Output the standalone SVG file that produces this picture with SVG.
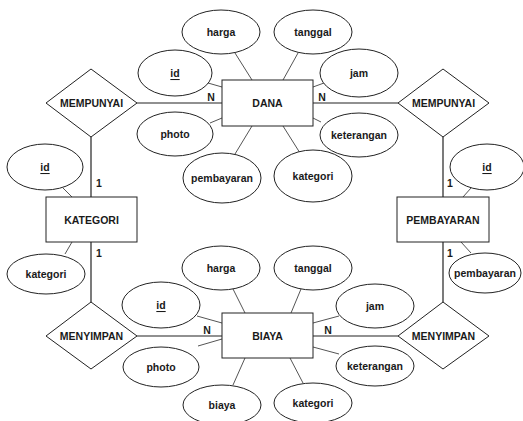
<svg xmlns="http://www.w3.org/2000/svg" width="523" height="421" viewBox="0 0 523 421">
  <style>
    text { font-family: "Liberation Sans", Arial, sans-serif; font-size: 10.5px; font-weight: bold; fill: #1a1a1a; text-anchor: middle; dominant-baseline: central; }
    .ent rect { fill: #fff; stroke: #222; stroke-width: 1; }
    .rel polygon { fill: #fff; stroke: #222; stroke-width: 1; }
    .att ellipse { fill: #fff; stroke: #222; stroke-width: 1; }
    .main { stroke: #222; stroke-width: 1.2; fill: none; }
    .attr { stroke: #555; stroke-width: 1; fill: none; }
    .card { font-size: 10.5px; }
    .key { text-decoration: underline; }
  </style>
  <rect width="523" height="421" fill="#fff"/>

  <!-- connectors -->
  <g id="connectors">
    <!-- relationship lines -->
    <line class="main" x1="137" y1="103" x2="222" y2="103"/>
    <line class="main" x1="313" y1="103" x2="398" y2="103"/>
    <line class="main" x1="91" y1="137" x2="91" y2="197"/>
    <line class="main" x1="91" y1="242" x2="91" y2="302"/>
    <line class="main" x1="443" y1="137" x2="443" y2="197"/>
    <line class="main" x1="443" y1="242" x2="443" y2="302"/>
    <line class="main" x1="137" y1="336" x2="222" y2="336"/>
    <line class="main" x1="313" y1="336" x2="398" y2="336"/>
    <!-- DANA attributes -->
    <line class="attr" x1="235" y1="53" x2="252" y2="80"/>
    <line class="attr" x1="298" y1="53" x2="283" y2="80"/>
    <line class="attr" x1="208" y1="83" x2="222" y2="87"/>
    <line class="attr" x1="324" y1="83" x2="313" y2="87"/>
    <line class="attr" x1="210" y1="123" x2="222" y2="118"/>
    <line class="attr" x1="321" y1="122" x2="313" y2="118"/>
    <line class="attr" x1="235" y1="154" x2="252" y2="126"/>
    <line class="attr" x1="300" y1="153" x2="283" y2="126"/>
    <!-- KATEGORI attributes -->
    <line class="attr" x1="63" y1="188" x2="72" y2="197"/>
    <line class="attr" x1="65" y1="254" x2="72" y2="242"/>
    <!-- PEMBAYARAN attributes -->
    <line class="attr" x1="471" y1="188" x2="463" y2="197"/>
    <line class="attr" x1="471" y1="253" x2="461" y2="242"/>
    <!-- BIAYA attributes -->
    <line class="attr" x1="233" y1="289" x2="245" y2="313"/>
    <line class="attr" x1="301" y1="289" x2="291" y2="313"/>
    <line class="attr" x1="197" y1="316" x2="222" y2="323"/>
    <line class="attr" x1="339" y1="316" x2="313" y2="323"/>
    <line class="attr" x1="198" y1="346" x2="222" y2="339"/>
    <line class="attr" x1="339" y1="354" x2="313" y2="347"/>
    <line class="attr" x1="233" y1="385" x2="245" y2="358"/>
    <line class="attr" x1="303" y1="383" x2="290" y2="358"/>
    <!-- cardinalities -->
    <text class="card" x="211" y="97">N</text>
    <text class="card" x="322" y="97">N</text>
    <text class="card" x="99" y="183">1</text>
    <text class="card" x="99" y="253">1</text>
    <text class="card" x="450" y="183">1</text>
    <text class="card" x="450" y="253">1</text>
    <text class="card" x="207" y="330">N</text>
    <text class="card" x="328" y="330">N</text>
  </g>

  <!-- entities -->
  <g id="dana" class="ent"><rect x="222" y="80" width="91" height="46"/><text x="267.5" y="103">DANA</text></g>
  <g id="kategori" class="ent"><rect x="46" y="197" width="91" height="45"/><text x="91.5" y="220">KATEGORI</text></g>
  <g id="pembayaran" class="ent"><rect x="397" y="197" width="92" height="45"/><text x="443" y="220">PEMBAYARAN</text></g>
  <g id="biaya" class="ent"><rect x="222" y="313" width="91" height="45"/><text x="267.5" y="336">BIAYA</text></g>

  <!-- relationships -->
  <g id="mempunyai-1" class="rel"><polygon points="46,103 91,69 137,103 91,137"/><text x="91.5" y="103">MEMPUNYAI</text></g>
  <g id="mempunyai-2" class="rel"><polygon points="398,103 443,69 489,103 443,137"/><text x="443.5" y="103">MEMPUNYAI</text></g>
  <g id="menyimpan-1" class="rel"><polygon points="46,336 91,302 137,336 91,369"/><text x="91.5" y="336">MENYIMPAN</text></g>
  <g id="menyimpan-2" class="rel"><polygon points="398,336 443,302 489,336 443,369"/><text x="443.5" y="336">MENYIMPAN</text></g>

  <!-- DANA attributes -->
  <g id="dana-harga" class="att"><ellipse cx="221" cy="32" rx="39" ry="22"/><text x="221" y="32">harga</text></g>
  <g id="dana-tanggal" class="att"><ellipse cx="313" cy="32" rx="39" ry="22"/><text x="313" y="32">tanggal</text></g>
  <g id="dana-id" class="att"><ellipse cx="175" cy="73" rx="37" ry="23"/><text class="key" x="175" y="73">id</text></g>
  <g id="dana-jam" class="att"><ellipse cx="359" cy="73" rx="39" ry="24"/><text x="359" y="73">jam</text></g>
  <g id="dana-photo" class="att"><ellipse cx="175" cy="134" rx="38" ry="22"/><text x="175" y="134">photo</text></g>
  <g id="dana-keterangan" class="att"><ellipse cx="359" cy="135" rx="39" ry="22"/><text x="359" y="135">keterangan</text></g>
  <g id="dana-pembayaran" class="att"><ellipse cx="222" cy="178" rx="39" ry="25"/><text x="222" y="178">pembayaran</text></g>
  <g id="dana-kategori" class="att"><ellipse cx="313" cy="176" rx="39" ry="26"/><text x="313" y="176">kategori</text></g>

  <!-- KATEGORI attributes -->
  <g id="kategori-id" class="att"><ellipse cx="45" cy="167" rx="38" ry="23"/><text class="key" x="45" y="167">id</text></g>
  <g id="kategori-kategori" class="att"><ellipse cx="46" cy="274" rx="39" ry="20"/><text x="46" y="274">kategori</text></g>

  <!-- PEMBAYARAN attributes -->
  <g id="pembayaran-id" class="att"><ellipse cx="487" cy="167" rx="37" ry="23"/><text class="key" x="487" y="167">id</text></g>
  <g id="pembayaran-pembayaran" class="att"><ellipse cx="485" cy="273" rx="36" ry="20"/><text x="485" y="273">pembayaran</text></g>

  <!-- BIAYA attributes -->
  <g id="biaya-harga" class="att"><ellipse cx="221" cy="268" rx="39" ry="22"/><text x="221" y="268">harga</text></g>
  <g id="biaya-tanggal" class="att"><ellipse cx="313" cy="268" rx="39" ry="22"/><text x="313" y="268">tanggal</text></g>
  <g id="biaya-id" class="att"><ellipse cx="161" cy="305" rx="39" ry="23"/><text class="key" x="161" y="305">id</text></g>
  <g id="biaya-jam" class="att"><ellipse cx="375" cy="306" rx="39" ry="22"/><text x="375" y="306">jam</text></g>
  <g id="biaya-photo" class="att"><ellipse cx="161" cy="367" rx="38" ry="20"/><text x="161" y="367">photo</text></g>
  <g id="biaya-keterangan" class="att"><ellipse cx="375" cy="366" rx="39" ry="20"/><text x="375" y="366">keterangan</text></g>
  <g id="biaya-biaya" class="att"><ellipse cx="222" cy="405" rx="39" ry="20"/><text x="222" y="405">biaya</text></g>
  <g id="biaya-kategori" class="att"><ellipse cx="313" cy="403" rx="39" ry="20"/><text x="313" y="403">kategori</text></g>
</svg>
